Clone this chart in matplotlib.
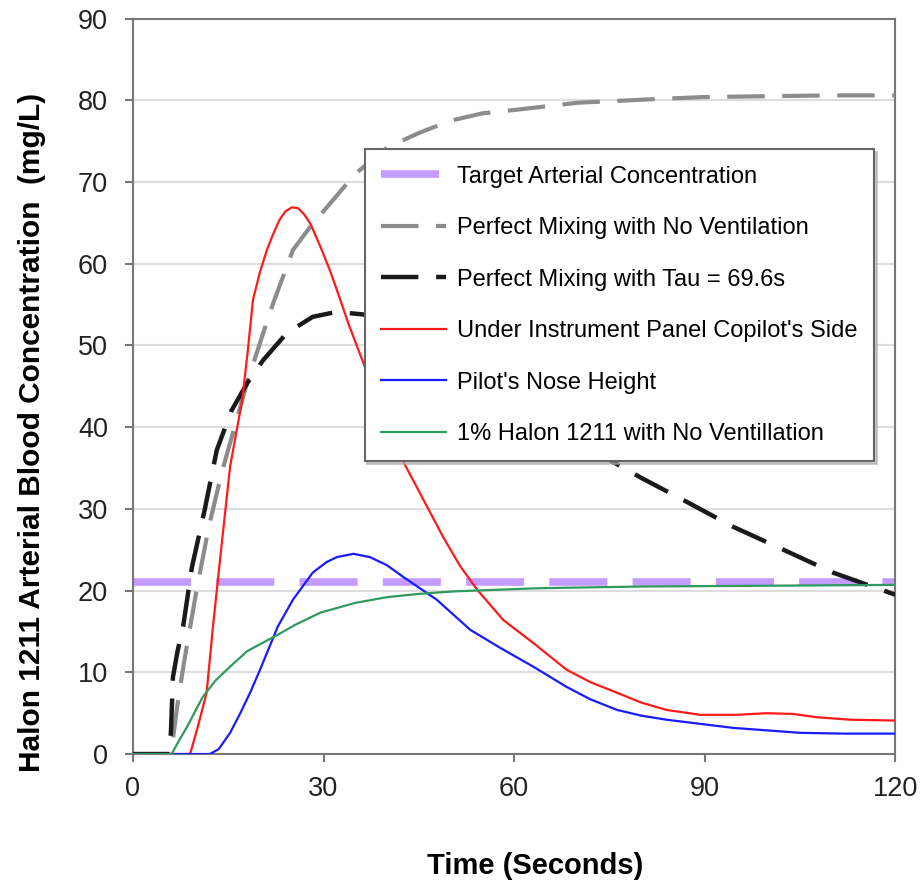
import matplotlib.pyplot as plt

plt.rcParams['font.family'] = ['Liberation Sans', 'DejaVu Sans']

# time axis (s) and blood concentration (mg/L) read for each case
target = 21.1

t_nomix = [0, 6, 7, 8, 10, 12, 14, 16, 18, 20.5, 22, 25.2, 28, 31.5, 35, 40, 45, 50, 55, 61, 70, 81, 90, 100, 110, 120]
c_nomix = [0, 0, 6, 11, 20, 28, 34.5, 40, 45.5, 51.5, 55, 61.7, 64.6, 67.8, 71.0, 74.2, 76.0, 77.5, 78.4, 78.9, 79.7, 80.1, 80.4, 80.5, 80.6, 80.6]

t_tau = [0, 5.8, 6.0, 6.3, 7.0, 7.9, 9.3, 11.3, 13.2, 15.5, 18, 20.5, 24.2, 28.3, 32, 36.2, 40, 45, 50, 55, 60, 65, 70, 75, 80, 86.6, 94.5, 102.4, 110.2, 116, 120]
c_tau = [0, 0, 3, 9.4, 12.5, 15.6, 22.9, 29.9, 37.2, 42, 45.4, 48.2, 51.5, 53.5, 54.1, 53.8, 53.0, 51.5, 49.4, 47.0, 44.4, 41.7, 38.9, 36.0, 33.8, 31.1, 27.8, 25.0, 22.2, 20.6, 19.5]

t_red = [0, 9, 10.2, 11.6, 12.6, 13.7, 15.3, 17.2, 18.1, 18.9, 20, 21.1, 22, 23.1, 24, 25, 26, 27, 28, 29.5, 31, 32.1, 34, 36.5, 39.5, 42.4, 45.2, 48.8, 51.5, 54.2, 58.3, 63, 68.3, 72, 76.2, 80, 84, 89.3, 95, 99.8, 104, 107.7, 113, 120]
c_red = [0, 0, 3.3, 7.5, 15.6, 23.7, 35.2, 43.3, 49.5, 55.6, 59, 61.7, 63.5, 65.4, 66.4, 66.9, 66.8, 66.0, 64.8, 62.1, 59.2, 56.8, 52.5, 47.4, 41.6, 36, 31.9, 26.6, 23.0, 20.1, 16.4, 13.6, 10.3, 8.8, 7.5, 6.3, 5.4, 4.8, 4.8, 5.0, 4.9, 4.5, 4.2, 4.1]

t_blue = [0, 12.1, 13.5, 15.3, 16.9, 18.5, 20, 22.8, 25.2, 28.3, 30.5, 32.1, 34.7, 37.3, 40, 42.5, 47.8, 53.1, 57.8, 63, 68.3, 72, 76.2, 80, 84, 94.5, 105, 112, 120]
c_blue = [0, 0, 0.6, 2.6, 5.0, 7.6, 10.3, 15.6, 18.9, 22.2, 23.5, 24.1, 24.5, 24.1, 23.1, 21.7, 18.9, 15.2, 13.0, 10.7, 8.2, 6.7, 5.4, 4.7, 4.2, 3.2, 2.6, 2.5, 2.5]

t_green = [0, 6.1, 7, 8.5, 11, 13, 15.3, 18, 22.8, 25.5, 29.5, 35, 40, 45, 50.4, 64.1, 80, 100, 120]
c_green = [0, 0, 1.3, 3.3, 7.0, 9.0, 10.7, 12.6, 14.6, 15.8, 17.3, 18.5, 19.2, 19.6, 19.9, 20.3, 20.5, 20.6, 20.7]

fig = plt.figure(figsize=(9.23, 8.84), dpi=100)
ax = fig.add_axes([0.144, 0.147, 0.826, 0.832])

ax.axhline(target, color='#c49cff', lw=5.5, dashes=(7.6, 3.3), label='Target Arterial Concentration', zorder=2)
ax.plot(t_nomix, c_nomix, color='#8c8c8c', lw=3, dashes=(9, 4.2), label='Perfect Mixing with No Ventilation', zorder=3)
ax.plot(t_tau, c_tau, color='#1a1a1a', lw=3.2, dashes=(8.4, 4.0), label='Perfect Mixing with Tau = 69.6s', zorder=3)
ax.plot(t_red, c_red, color='#ff1a1a', lw=1.6, label="Under Instrument Panel Copilot's Side", zorder=4)
ax.plot(t_blue, c_blue, color='#1a1aff', lw=1.6, label="Pilot's Nose Height", zorder=4)
ax.plot(t_green, c_green, color='#2e9a5e', lw=1.6, label='1% Halon 1211 with No Ventillation', zorder=4)

ax.set_xlim(0, 120)
ax.set_ylim(0, 90)
ax.set_xticks([0, 30, 60, 90, 120])
ax.set_yticks(range(0, 91, 10))
ax.yaxis.grid(True, color='#dddddd', lw=1.5)
ax.set_axisbelow(True)
for s in ax.spines.values():
    s.set_color('#777777')
    s.set_linewidth(1.5)
ax.tick_params(axis='both', labelsize=19.5, colors='#777777', labelcolor='#222222',
               direction='out', length=6, width=1.5)
ax.tick_params(axis='y', pad=12)
ax.tick_params(axis='x', pad=10)

fig.text(535 / 923, 1 - 866 / 884, 'Time (Seconds)', fontsize=21, fontweight='bold',
         ha='center', va='center')
fig.text(32 / 923, 1 - 432 / 884, 'Halon 1211 Arterial Blood Concentration  (mg/L)',
         fontsize=21.5, fontweight='bold', rotation=90, ha='center', va='center')

leg = ax.legend(loc='upper left', bbox_to_anchor=(0.304, 0.822), borderaxespad=0, fontsize=17,
                handlelength=2.75, handletextpad=0.5, labelspacing=1.25,
                borderpad=0.68, fancybox=False, framealpha=1, edgecolor='#666666',
                shadow={'color': '#aaaaaa', 'alpha': 0.6, 'ox': 2, 'oy': -2})
leg.get_frame().set_linewidth(1.5)
leg.set_zorder(5)

fig.savefig('out.png', dpi=100)
